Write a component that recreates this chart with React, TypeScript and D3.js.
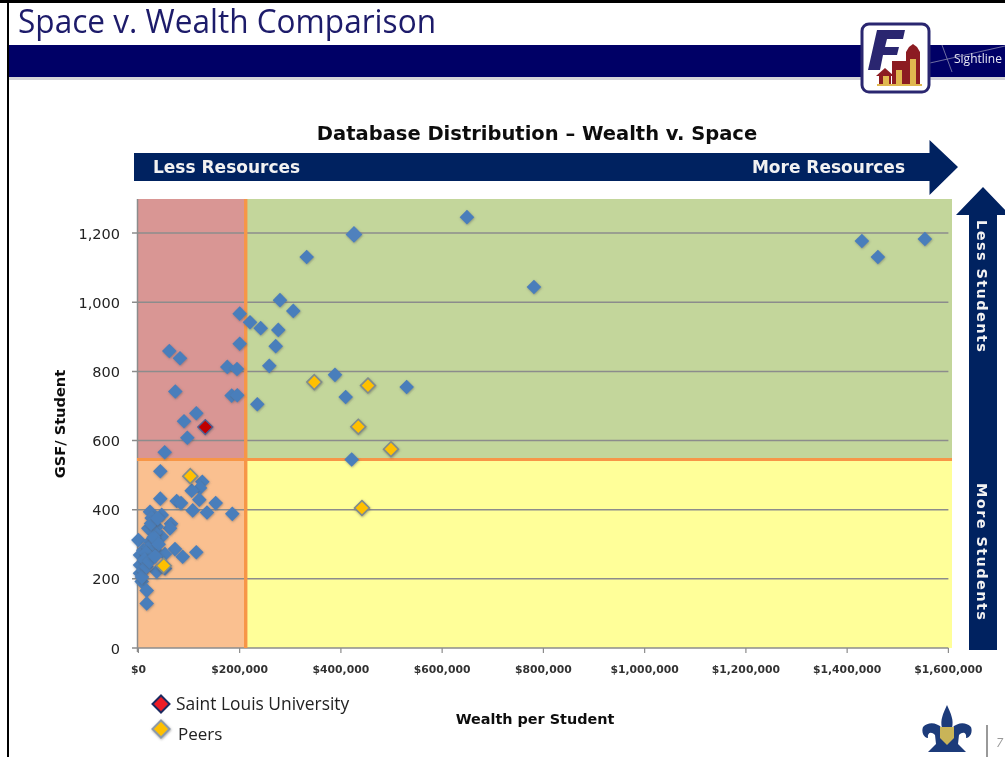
import React from "react";
import * as d3 from "d3";

const titleText = "Space v. Wealth Comparison";
const chartTitle = "Database Distribution – Wealth v. Space";
const xTicks = [0, 200000, 400000, 600000, 800000, 1000000, 1200000, 1400000, 1600000];
const yTicks = [0, 200, 400, 600, 800, 1000, 1200];
const wealthCut = 212000;
const spaceCut = 545;

const blueLarge: [number, number][] = [[425800, 1196]];
const blue: [number, number][] = [
  [332400, 1131], [279660, 1006], [305930, 975], [200070, 967], [220410, 942], [241540, 925],
  [276300, 920], [200070, 880], [271170, 873], [61030, 859], [82160, 838], [258530, 816],
  [175580, 813], [194740, 807], [388290, 790], [529890, 755], [72880, 742], [409420, 726],
  [184270, 730], [195330, 731], [234830, 705], [114350, 679], [90060, 656], [96580, 608],
  [51940, 566], [421270, 545], [43250, 511], [649000, 1246], [781300, 1044], [1429100, 1177],
  [1460700, 1131], [1553500, 1183], [126200, 481], [121660, 463], [105270, 455], [120280, 429],
  [152670, 419], [43250, 432], [75640, 425], [84140, 419], [107240, 398], [135490, 392],
  [185450, 388], [22910, 394], [46020, 385], [26270, 376], [64390, 359], [62410, 346],
  [19550, 346], [36140, 351], [46020, 322], [32790, 333], [0, 312], [22910, 307],
  [32790, 283], [72290, 286], [52540, 272], [87490, 264], [114350, 277], [9680, 283],
  [3160, 269], [19550, 264], [9680, 245], [3160, 240], [36140, 221], [52540, 230],
  [3160, 216], [6520, 192], [16390, 166], [16390, 129], [20000, 290], [28000, 300],
  [15000, 275], [12000, 255], [30000, 320], [40000, 300], [25000, 360], [38000, 375],
  [10000, 225], [7000, 205], [16000, 235], [22000, 250], [33000, 265],
];
const peers: [number, number][] = [
  [347400, 769], [453460, 759], [434300, 640], [498900, 575], [102500, 497], [441600, 405], [49970, 238],
];
const slu: [number, number][] = [[132130, 639]];

const xScale = d3.scaleLinear().domain([0, 1600000]).range([138.4, 948.4]);
const yScale = d3.scaleLinear().domain([0, 1300]).range([648, 198.5]);
const fmtX = (v: number) => "$" + d3.format(",")(v);
const fmtY = d3.format(",");
const symbol = (size: number) => {
  const r = size;
  return `M0,${-r}L${r},0L0,${r}L${-r},0Z`;
};
const SANS = "'DejaVu Sans', sans-serif";
const ARR = "#002060";

export default function App() {
  const plotL = 137, plotR = 952, plotT = 199, plotB = 648;
  const vx = xScale(wealthCut), hy = yScale(spaceCut);
  const Pt = (p: [number, number], r: number, fill: string, stroke: string, sw: number, key: string) => (
    <path key={key} d={symbol(r)} transform={`translate(${xScale(p[0])},${yScale(p[1])})`} fill={fill} stroke={stroke} strokeWidth={sw} filter="url(#shadow)" />
  );
  return (
    <svg width={1005} height={757} style={{ position: "absolute", left: 0, top: 0, background: "#fff" }}>
      <defs>
        <filter id="soft" x="0" y="0" width="100%" height="100%"><feGaussianBlur stdDeviation="0.4" /></filter>
        <filter id="shadow" x="-40%" y="-40%" width="180%" height="180%">
          <feDropShadow dx="0.5" dy="0.8" stdDeviation="0.8" floodColor="#555" floodOpacity="0.55" />
        </filter>
      </defs>
      <g filter="url(#soft)">
      {/* frame and header */}
      <rect x={0} y={0} width={1005} height={3} fill="#000" />
      <rect x={7} y={0} width={2} height={757} fill="#000" />
      <text x={18} y={33} fontFamily="'Open Sans', sans-serif" fontSize={32} fill="#1E1A6A" textLength={418} lengthAdjust="spacingAndGlyphs">{titleText}</text>
      <rect x={9} y={45} width={996} height={32} fill="#000066" />
      <rect x={9} y={77} width={996} height={3} fill="#d4d4d8" />
      <path d="M942,45 L952,72 M930,63 L1005,46" stroke="#8a8ab0" strokeWidth={0.8} fill="none" />
      <text x={954} y={63} fontFamily="'Open Sans', sans-serif" fontSize={12} fill="#e8e8f4">Sightline</text>

      {/* logo */}
      <rect x={862} y={24} width={67} height={68} rx={7} fill="#fff" stroke="#2b2870" strokeWidth={3} />
      <path d="M877,30 L905,30 L903,39 L887,39 L885,47 L899,47 L897,55 L883,55 L880,70 L868,70 Z" fill="#2b2870" />
      <path d="M879,85 L879,76 L876,76 L885,68 L894,76 L891,76 L891,85 Z" fill="#8c1c24" />
      <rect x={892} y={61} width={14} height={24} fill="#8c1c24" />
      <path d="M906,85 L906,52 L909,47 L913,44 L917,47 L920,52 L920,85 Z" fill="#8c1c24" />
      <rect x={883} y={76} width={6} height={9} fill="#e0b850" />
      <rect x={896} y={70} width={6} height={15} fill="#e0b850" />
      <rect x={910} y={59} width={6} height={26} fill="#e0b850" />
      <rect x={877} y={84} width={45} height={2} fill="#e0b850" />

      {/* chart title and arrows */}
      <text x={537} y={140} textAnchor="middle" fontFamily={SANS} fontWeight="bold" fontSize={19.5} fill="#111">{chartTitle}</text>
      <path d="M134,153 L929.5,153 L929.5,140 L958,167 L929.5,195 L929.5,181 L134,181 Z" fill={ARR} />
      <text x={153} y={173} fontFamily={SANS} fontWeight="bold" fontSize={17} fill="#f2f2f2">Less Resources</text>
      <text x={905} y={173} textAnchor="end" fontFamily={SANS} fontWeight="bold" fontSize={17} fill="#f2f2f2">More Resources</text>
      <path d="M983,187 L1010,215 L997,215 L997,650 L969,650 L969,215 L956,215 Z" fill={ARR} />
      <text transform="translate(977,220) rotate(90)" fontFamily={SANS} fontWeight="bold" fontSize={14.5} fill="#f2f2f2" textLength={132}>Less Students</text>
      <text transform="translate(977,483) rotate(90)" fontFamily={SANS} fontWeight="bold" fontSize={14.5} fill="#f2f2f2" textLength={137}>More Students</text>

      {/* quadrant backgrounds */}
      <rect x={plotL} y={plotT} width={vx - plotL} height={hy - plotT} fill="#D99694" />
      <rect x={vx} y={plotT} width={plotR - vx} height={hy - plotT} fill="#C3D69B" />
      <rect x={plotL} y={hy} width={vx - plotL} height={plotB - hy} fill="#FAC090" />
      <rect x={vx} y={hy} width={plotR - vx} height={plotB - hy} fill="#FFFF99" />

      {/* grid and axes */}
      {yTicks.map((t) => (
        <g key={t}>
          <line x1={132} x2={948.4} y1={yScale(t)} y2={yScale(t)} stroke="#8c8c8c" strokeWidth={1.5} />
          <text x={120} y={yScale(t) + 5.5} textAnchor="end" fontFamily={SANS} fontSize={14.5} fill="#222">{fmtY(t)}</text>
        </g>
      ))}
      <line x1={plotL + 0.5} x2={plotL + 0.5} y1={plotT} y2={plotB + 4} stroke="#8c8c8c" strokeWidth={1.5} />
      {xTicks.map((t) => (
        <g key={t}>
          <line x1={xScale(t)} x2={xScale(t)} y1={plotB} y2={plotB + 5} stroke="#8c8c8c" strokeWidth={1.2} />
          <text x={xScale(t)} y={673} textAnchor="middle" fontFamily={SANS} fontWeight="bold" fontSize={10.8} fill="#333">{fmtX(t)}</text>
        </g>
      ))}

      {/* cut lines */}
      <line x1={vx} x2={vx} y1={plotT} y2={plotB} stroke="#F79646" strokeWidth={3.4} />
      <line x1={plotL} x2={plotR} y1={hy} y2={hy} stroke="#F79646" strokeWidth={3} />

      {/* points */}
      {blue.map((p, i) => Pt(p, 7.3, "#4A7EBB", "none", 0, "b" + i))}
      {blueLarge.map((p, i) => Pt(p, 8.4, "#4F81BD", "none", 0, "bl" + i))}
      {peers.map((p, i) => Pt(p, 7.4, "#FFC000", "#7F8C8D", 1.6, "p" + i))}
      {slu.map((p, i) => Pt(p, 7.4, "#C00000", "#4F5E92", 1.4, "s" + i))}

      {/* axis titles */}
      <text transform="translate(65,424) rotate(-90)" textAnchor="middle" fontFamily={SANS} fontWeight="bold" fontSize={14.6} fill="#111">GSF/ Student</text>
      <text x={535} y={724} textAnchor="middle" fontFamily={SANS} fontWeight="bold" fontSize={14.4} fill="#111">Wealth per Student</text>

      {/* legend */}
      <path d={symbol(8.5)} transform="translate(161,704)" fill="#EE1C25" stroke="#1F2A60" strokeWidth={2} />
      <text x={176} y={710} fontFamily="'Open Sans', sans-serif" fontSize={17.4} fill="#222">Saint Louis University</text>
      <path d={symbol(8.5)} transform="translate(161,729)" fill="#FFC000" stroke="#8C9AA8" strokeWidth={2} filter="url(#shadow)" />
      <text x={178} y={740} fontFamily="'Open Sans', sans-serif" fontSize={17} fill="#222">Peers</text>

      {/* crest */}
      <g>
        <path d="M947,705 C951,714 954,720 952,728 C958,722 966,722 971,727 C973,732 970,738 966,738 C967,733 963,731 959,735 L958,744 L966,752 L928,752 L936,744 L935,735 C931,731 927,733 928,738 C924,738 921,732 923,727 C928,722 936,722 942,728 C940,720 943,714 947,705 Z" fill="#1F3A7A" />
        <path d="M940,727 L954,727 L954,738 L947,745 L940,738 Z" fill="#C9B458" />
      </g>
      <line x1={987} x2={987} y1={725} y2={757} stroke="#777" strokeWidth={1.5} />
      <text x={996} y={747} fontFamily="'Open Sans', sans-serif" fontStyle="italic" fontSize={13} fill="#999">7</text>
      </g>
    </svg>
  );
}
